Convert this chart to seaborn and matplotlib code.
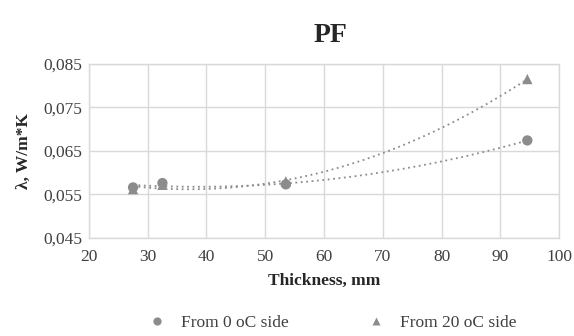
import numpy as np
import pandas as pd
import matplotlib
matplotlib.use("Agg")
import matplotlib.pyplot as plt
import seaborn as sns

thickness = [27.5, 32.5, 53.5, 94.6]
lam_0c = [0.0566, 0.0576, 0.0573, 0.0674]
lam_20c = [0.0562, 0.0572, 0.0580, 0.0815]
series_names = ["From 0 oC side", "From 20 oC side"]
xticks = [20, 30, 40, 50, 60, 70, 80, 90, 100]
yticks = [0.045, 0.055, 0.065, 0.075, 0.085]

df = pd.DataFrame({
    "Thickness": thickness * 2,
    "lam": lam_0c + lam_20c,
    "Series": [series_names[0]] * 4 + [series_names[1]] * 4,
})

sns.set_theme(style="whitegrid")
plt.rcParams["font.family"] = ["Liberation Serif", "DejaVu Serif"]

fig = plt.figure(figsize=(5.74, 3.36), dpi=100)
ax = fig.add_axes([0.155, 0.292, 0.819, 0.518])

gray = "#8c8c8c"
sns.scatterplot(data=df, x="Thickness", y="lam", style="Series", hue="Series",
                palette=[gray, gray], markers=["o", "^"], s=55, edgecolor="none",
                ax=ax, zorder=3, legend=True)

xs = np.linspace(min(thickness), max(thickness), 200)
for vals in (lam_0c, lam_20c):
    c = np.polyfit(thickness, vals, 2)
    ax.plot(xs, np.polyval(c, xs), ls=(0, (1, 2)), color=gray, lw=1.3, zorder=2)

ax.set_xlim(20, 100)
ax.set_ylim(0.045, 0.085)
ax.set_xticks(xticks)
ax.set_yticks(yticks)
ax.set_yticklabels([f"{v:.3f}".replace(".", ",") for v in yticks])
ax.tick_params(axis="both", labelsize=12.5, colors="#404040", length=0)
ax.tick_params(axis="x", pad=8)
ax.tick_params(axis="y", pad=5)
ax.grid(True, color="#d9d9d9", lw=1)
for sp in ax.spines.values():
    sp.set_color("#d9d9d9")
    sp.set_linewidth(1)

ax.set_xlabel("Thickness, mm", fontsize=12.5, fontweight="bold", labelpad=6)
ax.set_ylabel("λ, W/m*K", fontsize=12.5, fontweight="bold", labelpad=8)
fig.text(0.575, 0.895, "PF", ha="center", va="center", fontsize=20, fontweight="bold")

h, l = ax.get_legend_handles_labels()
ax.legend(h, l, loc="center", bbox_to_anchor=(0.572, 0.04), bbox_transform=fig.transFigure,
          ncol=2, frameon=False, fontsize=12.5, columnspacing=4.0, handletextpad=0.4,
          markerscale=0.8, labelcolor="#404040")

fig.savefig("out.png", dpi=100)
